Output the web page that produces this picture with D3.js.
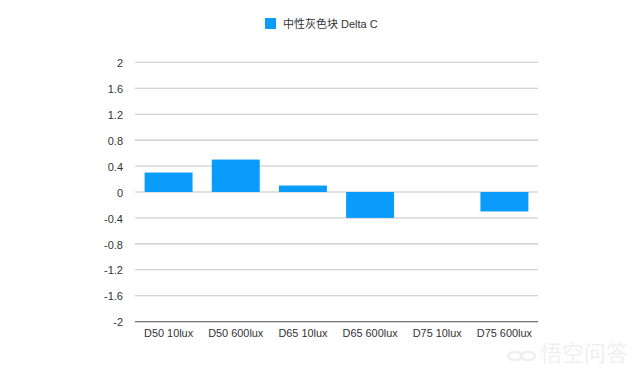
<!DOCTYPE html>
<html>
<head>
<meta charset="utf-8">
<script src="https://cdn.jsdelivr.net/npm/d3@7"></script>
<style>
  html, body { margin: 0; padding: 0; background: #fff; }
  text { font-family: "Liberation Sans", "Noto Sans CJK SC", sans-serif; fill: #333; }
</style>
</head>
<body>
<div id="chart"></div>
<script>
const categories = ['D50 10lux', 'D50 600lux', 'D65 10lux', 'D65 600lux', 'D75 10lux', 'D75 600lux'];
const values = [0.3, 0.5, 0.1, -0.4, 0, -0.3];
const yTicks = [2, 1.6, 1.2, 0.8, 0.4, 0, -0.4, -0.8, -1.2, -1.6, -2];
const seriesName = '中性灰色块 Delta C';

const width = 640, height = 375;
const margin = {top: 62.3, right: 102, bottom: 53.3, left: 135};

const svg = d3.select('#chart').append('svg')
  .attr('width', width)
  .attr('height', height)
  .style('display', 'block');

const x = d3.scaleBand()
  .domain(categories)
  .range([margin.left, width - margin.right])
  .paddingInner(0.286)
  .paddingOuter(0.143);

const y = d3.scaleLinear()
  .domain([-2, 2])
  .range([height - margin.bottom, margin.top]);

//gridlines + y labels
const yAxis = svg.append('g')
  .attr('transform', `translate(${margin.left},0)`)
  .call(d3.axisLeft(y).tickValues(yTicks).tickSize(-(width - margin.left - margin.right)).tickPadding(12).offset(0).tickFormat(d => d));
yAxis.select('.domain').remove();
yAxis.selectAll('line')
  .attr('stroke', d => d === -2 ? '#4a4a4a' : '#c4c4c4')
  .attr('stroke-width', 1.1);
yAxis.selectAll('text')
  .attr('font-size', 11)
  .attr('dy', '0.42em')
  .style('fill', '#333');

//bars
svg.append('g').selectAll('rect')
  .data(values)
  .join('rect')
  .attr('x', (d, i) => x(categories[i]))
  .attr('width', x.bandwidth())
  .attr('y', d => y(Math.max(d, 0)))
  .attr('height', d => Math.abs(y(d) - y(0)))
  .attr('fill', '#0a9cfa');

//x labels
const xAxis = svg.append('g')
  .attr('transform', `translate(0,${height - margin.bottom})`)
  .call(d3.axisBottom(x).tickSize(0).tickPadding(8));
xAxis.select('.domain').remove();
xAxis.selectAll('text')
  .attr('font-size', 10.9)
  .style('fill', '#333');

//legend
const legend = svg.append('g');
legend.append('rect')
  .attr('x', 265).attr('y', 18)
  .attr('width', 11).attr('height', 11)
  .attr('fill', '#0a9cfa');
legend.append('text')
  .attr('x', 283).attr('y', 28)
  .attr('font-size', 11)
  .text(seriesName);

//watermark
const mark = svg.append('g').style('filter', 'blur(0.6px)');
mark.append('text')
  .attr('x', 540).attr('y', 361)
  .attr('font-size', 22)
  .style('fill', '#efefef')
  .text('悟空问答');
mark.selectAll('ellipse')
  .data([0, 1])
  .join('ellipse')
  .attr('cx', d => 515 + d * 13)
  .attr('cy', 356)
  .attr('rx', 7)
  .attr('ry', 4)
  .attr('fill', 'none')
  .attr('stroke', '#efefef')
  .attr('stroke-width', 2.5);
</script>
</body>
</html>
